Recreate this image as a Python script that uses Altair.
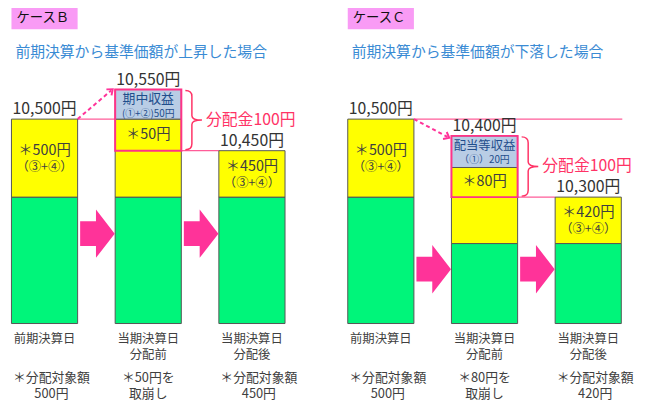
import math
import altair as alt
import pandas as pd

# ---------------- data ----------------
cases = ["ケースＢ", "ケースＣ"]
subtitles = ["前期決算から基準価額が上昇した場合", "前期決算から基準価額が下落した場合"]
day_labels = ["前期決算日", "当期決算日\n分配前", "当期決算日\n分配後"]
prices = [[10500, 10550, 10450], [10500, 10400, 10300]]
income_title = ["期中収益", "配当等収益"]
income_detail = ["(①+②)50円", "（①）20円"]
drawdown = [50, 80]
distributable = [[500, 450], [500, 420]]   # before / after distribution
payout = [100, 100]
notes = [["＊分配対象額\n500円", "＊50円を\n取崩し", "＊分配対象額\n450円"],
         ["＊分配対象額\n500円", "＊80円を\n取崩し", "＊分配対象額\n420円"]]

# schematic drawing heights (the original diagram is not drawn to scale)
green_top = [[128, 128, 128], [128, 81, 81]]
yellow_top = [[207, 207, 175], [207, 158, 128]]
income_top = [237, 190]
box_bottom = [175, 128]
arrow_level = [91, 55]

# ---------------- styling ----------------
FONT = "Noto Sans CJK JP"
YELLOW = "#ffff00"
GREEN = "#00f57a"
BLUE = "#b9cde5"
PINK = "#ff3388"
PINK_LINE = "#ff5c99"
ARROW = "#ff3399"
TITLE_BG = "#f99bf5"
SUB_BLUE = "#3a8bd4"
TXT = "#404040"

PANEL = [0.0, 3.243]
HALF = 0.319
PX = 1 / 105.0

xs = alt.Scale(domain=[-0.35238, 5.79048], nice=False, zero=False)
ys = alt.Scale(domain=[-80, 317], nice=False, zero=False)


def X(f="x"):
    return alt.X(f"{f}:Q", scale=xs, axis=None)


def Y(f="y"):
    return alt.Y(f"{f}:Q", scale=ys, axis=None)


seg, boxes, hlines, dashes, heads, blocks, braces = [], [], [], [], [], [], []
tc, tl, tm = [], [], []  # centred / left / multi-line texts

for c in range(2):
    bx = [PANEL[c] + i for i in range(3)]
    tops = [yellow_top[c][0], income_top[c], yellow_top[c][2]]
    for i in range(3):
        x0, x1 = bx[i] - HALF, bx[i] + HALF
        seg.append(dict(x=x0, x2=x1, y=0, y2=green_top[c][i], fill=GREEN))
        seg.append(dict(x=x0, x2=x1, y=green_top[c][i], y2=yellow_top[c][i], fill=YELLOW))
        if i == 1:
            seg.append(dict(x=x0, x2=x1, y=yellow_top[c][1], y2=income_top[c], fill=BLUE))
        # price labels
        tc.append(dict(x=bx[i], y=tops[i] + 10, text=f"{prices[c][i]:,}円", size=16, color="#333333"))
        # bottom labels (first line position; following lines 16px lower)
        tm.append(dict(x=bx[i], y=-16, text=day_labels[i], size=12.5, color=TXT))
        shift = 0 if i == 1 else 7 * PX
        tm.append(dict(x=bx[i] + shift, y=-55, text=notes[c][i], size=13, color=TXT))
    # distributable amount texts in yellow (bars 1 and 3)
    for k, i in enumerate([0, 2]):
        mid = (green_top[c][i] + yellow_top[c][i]) / 2
        tc.append(dict(x=bx[i], y=mid + 7, text=f"＊{distributable[c][k]}円", size=14.5, color=TXT))
        tc.append(dict(x=bx[i], y=mid - 9, text="（③+④）", size=12.5, color=TXT))
    # income block text
    tc.append(dict(x=bx[1], y=income_top[c] - 10, text=income_title[c], size=13 if c == 0 else 12.5,
                   color="#1f4e8c"))
    tc.append(dict(x=bx[1], y=income_top[c] - 24.5, text=income_detail[c], size=10, color="#1f4e8c"))
    # drawdown text
    tc.append(dict(x=bx[1], y=(yellow_top[c][1] + box_bottom[c]) / 2, text=f"＊{drawdown[c]}円", size=14.5,
                   color=TXT))
    # pink outline box
    boxes.append(dict(x=bx[1] - HALF, x2=bx[1] + HALF, y=box_bottom[c], y2=income_top[c]))
    # connecting pink lines
    if c == 0:
        hlines.append(dict(x=bx[0] + HALF, x2=bx[1] - HALF, y=tops[0], y2=tops[0]))
    else:
        hlines.append(dict(x=bx[0] + HALF, x2=bx[2] + HALF + PX, y=tops[0], y2=tops[0]))
    hlines.append(dict(x=bx[1] + HALF, x2=bx[2] - HALF, y=box_bottom[c], y2=box_bottom[c]))
    # dashed arrow
    sx, sy = bx[0] + HALF, tops[0]
    ex, ey = bx[1] - HALF - 4 * PX, income_top[c] - 1
    dashes.append(dict(x=sx, x2=ex, y=sy, y2=ey))
    ang = math.degrees(math.atan2((ex - sx) / PX, ey - sy)) % 360
    heads.append(dict(x=ex, y=ey, angle=ang))
    # block arrows
    for i in range(2):
        blocks.append(dict(x=bx[i] + 0.51, y=arrow_level[c]))
    # brace and payout label
    bmid = (box_bottom[c] + income_top[c]) / 2
    braces.append(dict(x=bx[1] + HALF + 12.5 * PX, y=bmid))
    tl.append(dict(x=bx[1] + HALF + 25 * PX, y=bmid, text=f"分配金{payout[c]}円", size=16, color="#ff3366"))
    # titles
    seg.append(dict(x=bx[0] - HALF, x2=bx[0] + HALF, y=298, y2=322, fill=TITLE_BG))
    tl.append(dict(x=bx[0] - HALF + 5 * PX, y=309, text=cases[c], size=13.5, color="#111111"))
    tl.append(dict(x=bx[0] - HALF + 4 * PX, y=275, text=subtitles[c], size=15, color=SUB_BLUE))

seg_df = pd.DataFrame(seg)
title_mask = seg_df["fill"] == TITLE_BG

bars = alt.Chart(seg_df[~title_mask]).mark_rect(stroke="#555555", strokeWidth=1).encode(
    x=X(), x2="x2:Q", y=Y(), y2="y2:Q", fill=alt.Fill("fill:N", scale=None))
title_bg = alt.Chart(seg_df[title_mask]).mark_rect().encode(
    x=X(), x2="x2:Q", y=Y(), y2="y2:Q", fill=alt.Fill("fill:N", scale=None))
box_layer = alt.Chart(pd.DataFrame(boxes)).mark_rect(fillOpacity=0, stroke=PINK, strokeWidth=2).encode(
    x=X(), x2="x2:Q", y=Y(), y2="y2:Q")
line_layer = alt.Chart(pd.DataFrame(hlines)).mark_rule(color=PINK_LINE, strokeWidth=1.3).encode(
    x=X(), x2="x2:Q", y=Y(), y2="y2:Q")
dash_layer = alt.Chart(pd.DataFrame(dashes)).mark_rule(color=ARROW, strokeWidth=2, strokeDash=[4, 3]).encode(
    x=X(), x2="x2:Q", y=Y(), y2="y2:Q")
head_layer = alt.Chart(pd.DataFrame(heads)).mark_point(
    shape="M-0.8,0.6L0,-0.4L0.8,0.6", filled=False, color=ARROW, strokeWidth=2, size=100, opacity=1
).encode(x=X(), y=Y(), angle=alt.Angle("angle:Q", scale=None))
block_layer = alt.Chart(pd.DataFrame(blocks)).mark_point(
    shape="M-0.714,-0.51L-0.06,-0.51L-0.06,-1L0.714,0L-0.06,1L-0.06,0.51L-0.714,0.51Z",
    filled=True, color=ARROW, size=2401, opacity=1, strokeWidth=0
).encode(x=X(), y=Y())
brace_layer = alt.Chart(pd.DataFrame(braces)).mark_point(
    shape="M-0.28,-1Q-0.06,-1,-0.06,-0.8L-0.06,-0.15Q-0.06,0,0.28,0Q-0.06,0,-0.06,0.15L-0.06,0.8Q-0.06,1,-0.28,1",
    filled=False, color="#ff3366", strokeWidth=1.5, size=3600, opacity=1
).encode(x=X(), y=Y())
text_c = alt.Chart(pd.DataFrame(tc)).mark_text(font=FONT, align="center", baseline="middle").encode(
    x=X(), y=Y(), text="text:N", size=alt.Size("size:Q", scale=None), color=alt.Color("color:N", scale=None))
text_m = alt.Chart(pd.DataFrame(tm)).mark_text(
    font=FONT, align="center", baseline="middle", lineBreak="\n", lineHeight=16
).encode(
    x=X(), y=Y(), text="text:N", size=alt.Size("size:Q", scale=None), color=alt.Color("color:N", scale=None))
text_l = alt.Chart(pd.DataFrame(tl)).mark_text(font=FONT, align="left", baseline="middle").encode(
    x=X(), y=Y(), text="text:N", size=alt.Size("size:Q", scale=None), color=alt.Color("color:N", scale=None))

chart = alt.layer(
    title_bg, line_layer, bars, box_layer, dash_layer, head_layer, block_layer, brace_layer,
    text_c, text_m, text_l
).properties(
    width=645, height=397, padding=0, background="white",
    autosize=alt.AutoSizeParams(type="none"),
).configure_view(stroke=None)

chart.save("out.html", embed_options={"renderer": "svg", "actions": False})
